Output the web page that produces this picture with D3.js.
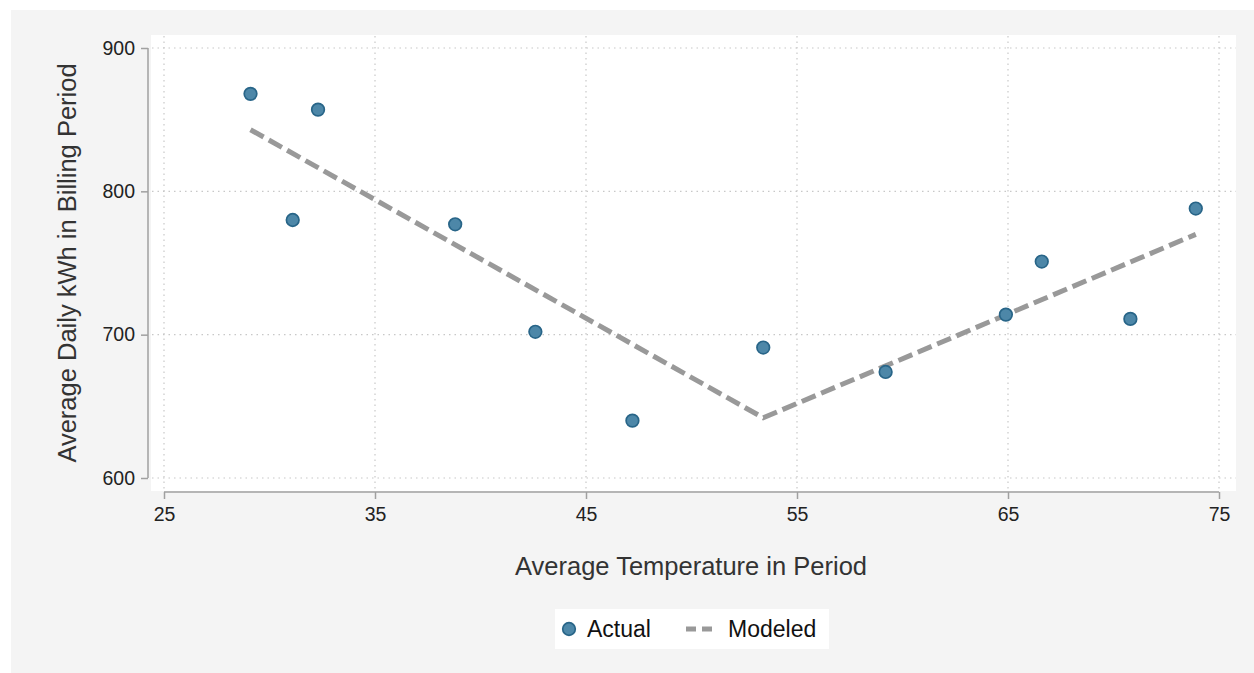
<!DOCTYPE html>
<html>
<head>
<meta charset="utf-8">
<script src="https://cdn.jsdelivr.net/npm/d3@7"></script>
<style>
  html, body { margin: 0; padding: 0; background: #ffffff; }
  svg { display: block; font-family: "Liberation Sans", Arial, sans-serif; }
</style>
</head>
<body>
<svg id="chart" width="1254" height="673"></svg>
<script>
// Billing period temperature vs. average daily consumption
const actualTemp = [29.1, 31.1, 32.3, 38.8, 42.6, 47.2, 53.4, 59.2, 64.9, 66.6, 70.8, 73.9];
const actualKwh  = [868, 780, 857, 777, 702, 640, 691, 674, 714, 751, 711, 788];

// Fitted heating / cooling model: breakpoints of the piecewise line
const modelTemp = [29.1, 53.4, 73.9];
const modelKwh  = [843, 642, 770];

const xTicks = [25, 35, 45, 55, 65, 75];
const yTicks = [600, 700, 800, 900];

const svg = d3.select("#chart");

// outer grey panel
svg.append("rect").attr("x", 11).attr("y", 10).attr("width", 1243).attr("height", 663).attr("fill", "#f4f4f4");

const x = d3.scaleLinear().domain([25, 75]).range([164, 1219]);
const y = d3.scaleLinear().domain([600, 900]).range([478, 48]);

// plot region
svg.append("rect").attr("x", 151).attr("y", 35).attr("width", 1085).attr("height", 456).attr("fill", "#ffffff");

// gridlines
const grid = svg.append("g").attr("stroke", "#c8c8c8").attr("stroke-width", 1.2).attr("stroke-dasharray", "1.5,4");
grid.selectAll("line.h").data(yTicks).join("line")
  .attr("x1", 152).attr("x2", 1236)
  .attr("y1", d => y(d)).attr("y2", d => y(d));
grid.selectAll("line.v").data(xTicks).join("line")
  .attr("y1", 36).attr("y2", 490)
  .attr("x1", d => x(d)).attr("x2", d => x(d));

// axes
const xAxis = svg.append("g").attr("transform", "translate(0,492)")
  .call(d3.axisBottom(x).tickValues(xTicks).tickSize(7).tickPadding(5).tickFormat(d3.format("d")));
xAxis.select(".domain").attr("d", `M${x(25)},0H${x(75)}`);
const yAxis = svg.append("g").attr("transform", "translate(148,0)")
  .call(d3.axisLeft(y).tickValues(yTicks).tickSize(7).tickPadding(6).tickFormat(d3.format("d")));
yAxis.select(".domain").attr("d", `M0,${y(600)}V${y(900)}`);
[xAxis, yAxis].forEach(a => {
  a.select(".domain").attr("stroke", "#a0a0a0").attr("stroke-width", 1.5);
  a.selectAll(".tick line").attr("stroke", "#a0a0a0").attr("stroke-width", 1.5);
  a.selectAll(".tick text").attr("fill", "#222").attr("font-size", 19.5)
    .attr("font-family", "'Liberation Sans', Arial, sans-serif");
});
xAxis.selectAll(".tick text").attr("dy", "0.85em");

// axis titles
svg.append("text").attr("x", 691).attr("y", 575).attr("text-anchor", "middle")
  .attr("font-size", 25.5).attr("fill", "#333").text("Average Temperature in Period");
svg.append("text").attr("transform", "translate(76,263) rotate(-90)").attr("text-anchor", "middle")
  .attr("font-size", 25.5).attr("fill", "#333").text("Average Daily kWh in Billing Period");

// modeled line
const modelPts = modelTemp.map((t, i) => [t, modelKwh[i]]);
svg.append("path").datum(modelPts)
  .attr("d", d3.line().x(d => x(d[0])).y(d => y(d[1])))
  .attr("fill", "none").attr("stroke", "#999999").attr("stroke-width", 5)
  .attr("stroke-dasharray", "15,6");

// actual points
const actualPts = actualTemp.map((t, i) => [t, actualKwh[i]]);
svg.append("g").selectAll("circle").data(actualPts).join("circle")
  .attr("cx", d => x(d[0])).attr("cy", d => y(d[1])).attr("r", 6.3)
  .attr("fill", "#4d87a8").attr("stroke", "#286588").attr("stroke-width", 1.7);

// legend
const lg = svg.append("g");
lg.append("rect").attr("x", 555).attr("y", 609).attr("width", 274).attr("height", 40).attr("fill", "#ffffff");
lg.append("circle").attr("cx", 569).attr("cy", 629).attr("r", 6.3)
  .attr("fill", "#4d87a8").attr("stroke", "#286588").attr("stroke-width", 1.7);
lg.append("text").attr("x", 587).attr("y", 637).attr("font-size", 23).attr("fill", "#111").text("Actual");
lg.append("line").attr("x1", 686).attr("x2", 713).attr("y1", 629).attr("y2", 629)
  .attr("stroke", "#999999").attr("stroke-width", 5).attr("stroke-dasharray", "10,6");
lg.append("text").attr("x", 728).attr("y", 637).attr("font-size", 23).attr("fill", "#111").text("Modeled");
</script>
</body>
</html>
